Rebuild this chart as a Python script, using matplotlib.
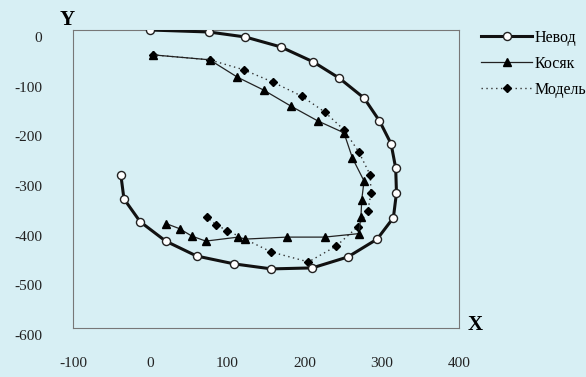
import matplotlib.pyplot as plt
from matplotlib.transforms import ScaledTranslation

# Невод (закидной невод)
nevod_x = [0, 76, 123, 169, 211, 245, 277, 297, 312, 318, 319, 315, 294, 256,
           210, 157, 109, 60, 20, -13, -34, -38]
nevod_y = [0, -4, -14, -34, -64, -97, -137, -183, -229, -278, -328, -378, -421,
           -457, -479, -481, -471, -455, -425, -386, -340, -292]

# Косяк
kosyak_x = [3, 77, 113, 147, 182, 217, 251, 262, 277, 274, 273, 270, 226, 177,
            123, 114, 72, 54, 38, 21]
kosyak_y = [-50, -60, -95, -121, -153, -183, -207, -258, -304, -342, -376, -410,
            -417, -417, -421, -417, -425, -415, -400, -390]

# Модель
model_x = [3, 77, 121, 159, 196, 226, 251, 270, 285, 286, 282, 269, 241, 205,
           157, 100, 85, 73]
model_y = [-50, -60, -80, -105, -133, -165, -201, -245, -292, -328, -364, -396,
           -435, -467, -447, -404, -392, -376]

x_ticks = [-100, 0, 100, 200, 300, 400]
y_ticks = [0, -100, -200, -300, -400, -500, -600]

bg = '#d7eff4'
plt.rcParams['font.family'] = ['Liberation Serif', 'DejaVu Serif']
plt.rcParams['axes.unicode_minus'] = False

fig = plt.figure(figsize=(5.86, 3.77), dpi=100, facecolor=bg)
ax = fig.add_axes([73/586, 1 - 328/377, (459 - 73)/586, (328 - 30)/377])
ax.set_facecolor(bg)

ax.plot(model_x, model_y, color='#333333', linestyle=(0, (1, 2.5)), linewidth=1,
        marker='D', markersize=4.2, markerfacecolor='black', markeredgecolor='black',
        label='Модель', zorder=2)
ax.plot(kosyak_x, kosyak_y, color='#222222', linewidth=0.9,
        marker='^', markersize=5.5, markerfacecolor='black', markeredgecolor='black',
        label='Косяк', zorder=3)
ax.plot(nevod_x, nevod_y, color='#111111', linewidth=2.2,
        marker='o', markersize=5.8, markerfacecolor='white', markeredgecolor='#222222',
        markeredgewidth=1, label='Невод', zorder=4)

ax.set_xlim(-100, 400)
ax.set_ylim(-600, 0)
ax.set_xticks(x_ticks)
ax.set_yticks(y_ticks)
ax.tick_params(length=0, labelsize=11, colors='#222222')
ax.tick_params(axis='y', pad=22)
ax.tick_params(axis='x', pad=21)
for lab in ax.get_yticklabels():
    lab.set_transform(lab.get_transform() + ScaledTranslation(0, -5/72, fig.dpi_scale_trans))
for s in ax.spines.values():
    s.set_color('#777777')
    s.set_linewidth(0.8)

fig.text(67/586, 1 - 20/377, 'Y', fontsize=15, fontweight='bold', ha='center', va='center')
fig.text(475/586, 1 - 325/377, 'X', fontsize=15, fontweight='bold', ha='center', va='center')

h, l = ax.get_legend_handles_labels()
fig.legend(h[::-1], l[::-1], loc='upper left', bbox_to_anchor=(481/586, 1 - 30/377),
           frameon=False, fontsize=11.5, handlelength=3.2, handletextpad=0.15,
           labelspacing=0.62, borderpad=0, borderaxespad=0)

fig.savefig('out.png', dpi=100, facecolor=bg)
